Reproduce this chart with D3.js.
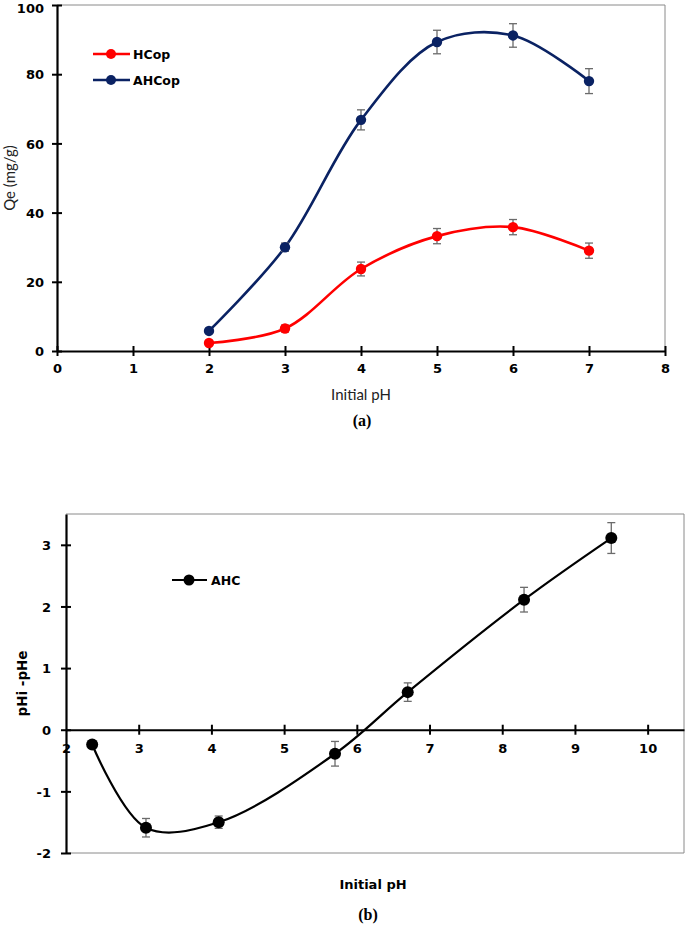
<!DOCTYPE html>
<html><head><meta charset="utf-8">
<script src="https://cdn.jsdelivr.net/npm/d3@7/dist/d3.min.js"></script>
<style>
body{margin:0;background:#fff;}
svg{display:block;}
</style></head>
<body><svg id="c" width="685" height="926"></svg>
<script>
// ---- Data (a) ----
const phA = [2, 3, 4, 5, 6, 7];
const hcop = [2.3, 6.5, 23.7, 33.2, 35.8, 29.0];
const hcopErr = [0.3, 1.0, 2.0, 2.2, 2.2, 2.2];
const ahcop = [5.8, 30.0, 66.8, 89.3, 91.2, 78.0];
const ahcopErr = [0.3, 1.2, 2.9, 3.4, 3.4, 3.6];
const xTicksA = [0, 1, 2, 3, 4, 5, 6, 7, 8];
const yTicksA = [0, 20, 40, 60, 80, 100];
// ---- Data (b) ----
const phB = [2.36, 3.1, 4.1, 5.7, 6.7, 8.3, 9.5];
const dpH = [-0.24, -1.59, -1.50, -0.39, 0.61, 2.11, 3.11];
const dpHErr = [0, 0.15, 0.1, 0.2, 0.15, 0.2, 0.25];
const xTicksB = [2, 3, 4, 5, 6, 7, 8, 9, 10];
const yTicksB = [-2, -1, 0, 1, 2, 3];

const svg = d3.select("#c");
const errColor = "#6b6b6b";
const BOLD = "'DejaVu Sans', Verdana, sans-serif";
const fmt = d => String(d);

function styleLbl(sel, size) {
  sel.style("font-family", BOLD).style("font-weight", "bold").style("font-size", (size || 13) + "px").style("fill", "#000");
  return sel;
}

function errorBars(g, xs, ys, es, x, y, cap) {
  xs.forEach((xv, i) => {
    if (!es[i]) return;
    const cx = x(xv), y1 = y(ys[i] - es[i]), y2 = y(ys[i] + es[i]);
    g.append("line").attr("x1", cx).attr("x2", cx).attr("y1", y1).attr("y2", y2)
      .attr("stroke", errColor).attr("stroke-width", 1.3);
    [y1, y2].forEach(yy => g.append("line").attr("x1", cx - cap).attr("x2", cx + cap)
      .attr("y1", yy).attr("y2", yy).attr("stroke", errColor).attr("stroke-width", 1.3));
  });
}

// ================= Chart (a) =================
{
  const x = d3.scaleLinear().domain([0, 8]).range([57, 665]);
  const y = d3.scaleLinear().domain([0, 100]).range([351, 5]);
  const g = svg.append("g");
  g.append("line").attr("x1", x(0)).attr("x2", x(8)).attr("y1", y(100)).attr("y2", y(100)).attr("stroke", "#8a8a8a").attr("stroke-width", 1);
  g.append("line").attr("x1", x(8)).attr("x2", x(8)).attr("y1", y(100)).attr("y2", y(0)).attr("stroke", "#8a8a8a").attr("stroke-width", 1);

  const xAxis = d3.axisBottom(x).tickValues(xTicksA).tickSize(0).tickFormat(fmt);
  const yAxis = d3.axisLeft(y).tickValues(yTicksA).tickSize(0).tickFormat(fmt);
  const gx = g.append("g").attr("transform", `translate(0,${y(0)})`).call(xAxis);
  gx.select(".domain").attr("stroke", "#000").attr("stroke-width", 2.2);
  gx.selectAll(".tick").append("line").attr("y1", -5).attr("y2", 5).attr("stroke", "#000").attr("stroke-width", 2);
  styleLbl(gx.selectAll(".tick text").attr("y", 13).attr("dy", "0.71em"));
  const gy = g.append("g").attr("transform", `translate(${x(0)},0)`).call(yAxis);
  gy.select(".domain").attr("stroke", "#000").attr("stroke-width", 2.2);
  gy.selectAll(".tick").append("line").attr("x1", -5).attr("x2", 5).attr("stroke", "#000").attr("stroke-width", 2);
  styleLbl(gy.selectAll(".tick text").attr("x", -13).attr("dy", d => d === 100 ? "0.6em" : "0.36em"));

  const series = [
    {vals: hcop, errs: hcopErr, color: "#ff0000"},
    {vals: ahcop, errs: ahcopErr, color: "#0a2263"}
  ];
  const line = d3.line().x(d => x(d[0])).y(d => y(d[1])).curve(d3.curveCatmullRom.alpha(0.5));
  series.forEach(s => {
    const pts = phA.map((p, i) => [p, s.vals[i]]);
    g.append("path").attr("d", line(pts)).attr("fill", "none").attr("stroke", s.color).attr("stroke-width", 2.6);
  });
  series.forEach(s => {
    errorBars(g, phA, s.vals, s.errs, x, y, 4);
    g.selectAll(null).data(phA).enter().append("circle")
      .attr("cx", d => x(d)).attr("cy", (d, i) => y(s.vals[i])).attr("r", 5.2).attr("fill", s.color);
  });

  const leg = [{name: "HCop", color: "#ff0000", yy: 54}, {name: "AHCop", color: "#0a2263", yy: 80}];
  leg.forEach(l => {
    g.append("line").attr("x1", 93).attr("x2", 130).attr("y1", l.yy).attr("y2", l.yy).attr("stroke", l.color).attr("stroke-width", 2.6);
    g.append("circle").attr("cx", 111).attr("cy", l.yy).attr("r", 5).attr("fill", l.color);
    styleLbl(g.append("text").attr("x", 133).attr("y", l.yy).attr("dy", "0.36em").text(l.name), 12.5);
  });

  g.append("text").attr("transform", `translate(15,${(y(0) + y(100)) / 2}) rotate(-90)`)
    .attr("text-anchor", "middle").attr("font-family", "Lato, 'Open Sans', sans-serif").attr("font-size", 15).attr("fill", "#222").text("Qe (mg/g)");
  g.append("text").attr("x", (x(0) + x(8)) / 2).attr("y", 400).attr("text-anchor", "middle")
    .attr("font-family", "Lato, 'Open Sans', sans-serif").attr("font-size", 15).attr("fill", "#222").text("Initial pH");
  g.append("text").attr("x", 362).attr("y", 426).attr("text-anchor", "middle")
    .attr("font-family", "'Liberation Serif', 'Times New Roman', serif").attr("font-weight", "bold").attr("font-size", 16).attr("fill", "#000").text("(a)");
}

// ================= Chart (b) =================
{
  const x = d3.scaleLinear().domain([2, 10.5]).range([66, 684]);
  const y = d3.scaleLinear().domain([-2, 3.5]).range([853, 514]);
  const g = svg.append("g");
  g.append("line").attr("x1", x(2)).attr("x2", x(10.5)).attr("y1", y(3.5)).attr("y2", y(3.5)).attr("stroke", "#8a8a8a").attr("stroke-width", 1);
  g.append("line").attr("x1", x(10.5)).attr("x2", x(10.5)).attr("y1", y(3.5)).attr("y2", y(-2)).attr("stroke", "#8a8a8a").attr("stroke-width", 1);
  g.append("line").attr("x1", x(2)).attr("x2", x(10.5)).attr("y1", y(-2)).attr("y2", y(-2)).attr("stroke", "#8a8a8a").attr("stroke-width", 1);

  const xAxis = d3.axisBottom(x).tickValues(xTicksB).tickSize(0).tickFormat(fmt);
  const yAxis = d3.axisLeft(y).tickValues(yTicksB).tickSize(0).tickFormat(fmt);
  const gx = g.append("g").attr("transform", `translate(0,${y(0)})`).call(xAxis);
  gx.select(".domain").attr("stroke", "#000").attr("stroke-width", 2.2);
  gx.selectAll(".tick").filter(d => d !== 2).append("line").attr("y1", -5).attr("y2", 5).attr("stroke", "#000").attr("stroke-width", 2);
  styleLbl(gx.selectAll(".tick text").attr("y", 14).attr("dy", "0.71em"));
  const gy = g.append("g").attr("transform", `translate(${x(2)},0)`).call(yAxis);
  gy.select(".domain").attr("stroke", "#000").attr("stroke-width", 2.2);
  gy.selectAll(".tick").append("line").attr("x1", -5).attr("x2", 5).attr("stroke", "#000").attr("stroke-width", 2);
  styleLbl(gy.selectAll(".tick text").attr("x", -15).attr("dy", "0.36em"));

  const line = d3.line().x(d => x(d[0])).y(d => y(d[1])).curve(d3.curveCatmullRom.alpha(0.5));
  const pts = phB.map((p, i) => [p, dpH[i]]);
  g.append("path").attr("d", line(pts)).attr("fill", "none").attr("stroke", "#000").attr("stroke-width", 2.2);
  errorBars(g, phB, dpH, dpHErr, x, y, 4);
  g.selectAll(null).data(phB).enter().append("circle")
    .attr("cx", d => x(d)).attr("cy", (d, i) => y(dpH[i])).attr("r", 6).attr("fill", "#000");

  g.append("line").attr("x1", 172).attr("x2", 207).attr("y1", 580).attr("y2", 580).attr("stroke", "#000").attr("stroke-width", 2.2);
  g.append("circle").attr("cx", 189).attr("cy", 580).attr("r", 5.5).attr("fill", "#000");
  styleLbl(g.append("text").attr("x", 211).attr("y", 580).attr("dy", "0.36em").text("AHC"), 12.5);

  styleLbl(g.append("text").attr("transform", `translate(27,${(y(-2) + y(3.5)) / 2}) rotate(-90)`)
    .attr("text-anchor", "middle").text("pHi -pHe"), 13.5);
  styleLbl(g.append("text").attr("x", 373).attr("y", 889).attr("text-anchor", "middle").text("Initial pH"), 13);
  g.append("text").attr("x", 368).attr("y", 920).attr("text-anchor", "middle")
    .attr("font-family", "'Liberation Serif', 'Times New Roman', serif").attr("font-weight", "bold").attr("font-size", 16).attr("fill", "#000").text("(b)");
}
</script></body></html>
